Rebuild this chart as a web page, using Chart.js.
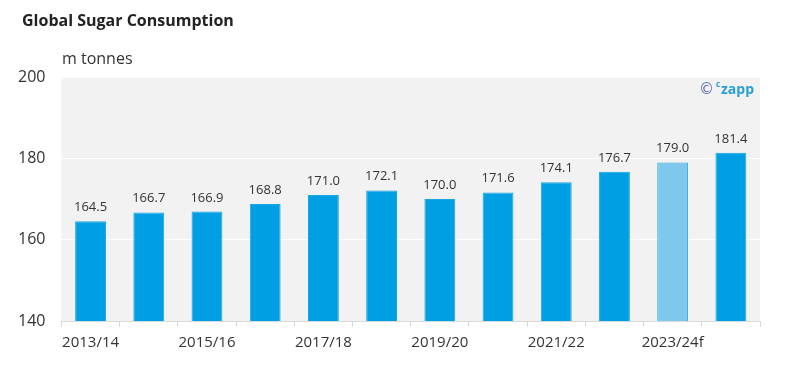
<!DOCTYPE html>
<html>
<head>
<meta charset="utf-8">
<script src="https://cdn.jsdelivr.net/npm/chart.js@4.4.0/dist/chart.umd.min.js"></script>
<style>
  html, body { margin: 0; padding: 0; background: #fff; }
  #wrap { position: relative; width: 793px; height: 372px; }
  #title { position: absolute; left: 22px; top: 9px; font: bold 16px "Open Sans", sans-serif; color: #222; }
  #unit { position: absolute; left: 62px; top: 47px; font: 16px "Open Sans", sans-serif; color: #333; }
</style>
</head>
<body>
<div id="wrap">
  <canvas id="chart" width="793" height="372"></canvas>
  <div id="title">Global Sugar Consumption</div>
  <div id="unit">m tonnes</div>
</div>
<script>
// ---- Data ----
const seasons = ['2013/14', '2014/15', '2015/16', '2016/17', '2017/18', '2018/19',
  '2019/20', '2020/21', '2021/22', '2022/23', '2023/24f', '2024/25f'];
const consumption = [164.5, 166.7, 166.9, 168.8, 171.0, 172.1, 170.0, 171.6, 174.1, 176.7, 179.0, 181.4];
const yTicks = [140, 160, 180, 200];
const highlightIndex = 10;

const BLUE = '#009fe3';
const LIGHT = '#7dc8ec';

// grey plot background
const plotBg = {
  id: 'plotBg',
  beforeDraw(chart) {
    const { ctx, chartArea: a } = chart;
    ctx.save();
    ctx.fillStyle = '#f2f2f2';
    ctx.fillRect(a.left, a.top, a.right - a.left, a.bottom - a.top);
    ctx.restore();
  }
};

// value labels + logo
const valueLabels = {
  id: 'valueLabels',
  afterDatasetsDraw(chart) {
    const { ctx } = chart;
    const meta = chart.getDatasetMeta(0);
    ctx.save();
    ctx.font = '13px "Open Sans", sans-serif';
    ctx.fillStyle = '#333';
    ctx.textAlign = 'center';
    ctx.textBaseline = 'alphabetic';
    meta.data.forEach((bar, i) => {
      ctx.fillText(consumption[i].toFixed(1), bar.x, bar.y - 10);
    });

    // czapp mark
    ctx.textAlign = 'left';
    ctx.fillStyle = '#5b6cb2';
    ctx.font = '15px "DejaVu Sans", sans-serif';
    ctx.fillText('\u00a9', 699, 94);
    ctx.fillStyle = '#2a9fd6';
    ctx.font = 'bold 8px "Open Sans", sans-serif';
    ctx.fillText('c', 716, 87);
    ctx.font = 'bold 14px "Open Sans", sans-serif';
    ctx.fillText('zapp', 721, 94);
    ctx.restore();
  }
};

new Chart(document.getElementById('chart'), {
  type: 'bar',
  data: {
    labels: seasons,
    datasets: [{
      data: consumption,
      backgroundColor: seasons.map((s, i) => i === highlightIndex ? LIGHT : BLUE),
      borderColor: seasons.map((s, i) => i === highlightIndex ? '#29abe2' : '#1aa5e4'),
      borderWidth: 1,
      borderSkipped: 'bottom',
      barPercentage: 0.53,
      categoryPercentage: 1
    }]
  },
  options: {
    responsive: false,
    animation: false,
    layout: { padding: { top: 77, right: 33, left: 2, bottom: 13 } },
    plugins: {
      legend: { display: false },
      tooltip: { enabled: false }
    },
    scales: {
      y: {
        min: 140,
        max: 200,
        afterBuildTicks: axis => { axis.ticks = yTicks.map(v => ({ value: v })); },
        ticks: {
          color: '#333',
          padding: 16,
          font: { family: '"Open Sans", sans-serif', size: 16 }
        },
        grid: { color: '#ffffff', lineWidth: 1, drawTicks: false },
        border: { display: false }
      },
      x: {
        ticks: {
          color: '#333',
          autoSkip: false,
          maxRotation: 0,
          padding: 7,
          font: { family: '"Open Sans", sans-serif', size: 15 },
          callback: (v, i) => i % 2 === 0 ? seasons[i] : ''
        },
        grid: { offset: true, drawOnChartArea: false, drawTicks: true, tickLength: 6, color: '#d9d9d9' },
        border: { display: true, color: '#d9d9d9' }
      }
    }
  },
  plugins: [plotBg, valueLabels]
});
</script>
</body>
</html>
